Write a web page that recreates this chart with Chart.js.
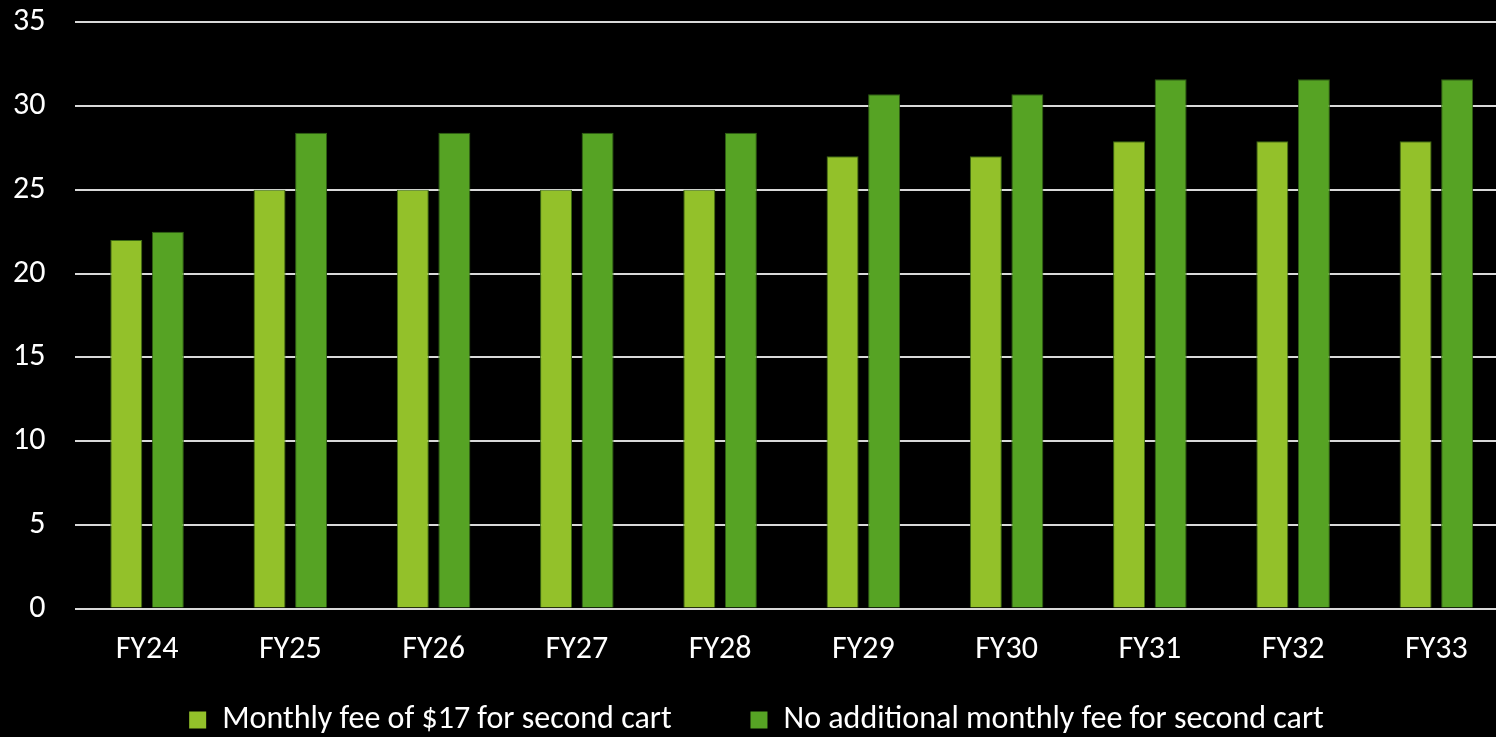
<!DOCTYPE html>
<html><head><meta charset="utf-8">
<script src="https://cdn.jsdelivr.net/npm/chart.js@4/dist/chart.umd.min.js"></script>
<style>html,body{margin:0;padding:0;background:#000;overflow:hidden}#wrap{width:1508px;height:764px;position:relative;margin-top:-27px}</style>
</head><body><div id="wrap"><canvas id="c"></canvas></div>
<script>
const categories = ["FY24","FY25","FY26","FY27","FY28","FY29","FY30","FY31","FY32","FY33"];
const feeSeries = [22,25,25,25,25,27,27,27.9,27.9,27.9];
const noFeeSeries = [22.5,28.4,28.4,28.4,28.4,30.7,30.7,31.6,31.6,31.6];
const seriesNames = ["Monthly fee of $17 for second cart","No additional monthly fee for second cart"];
const yTicks = [0,5,10,15,20,25,30,35];
const FONT = "Carlito, Lato, 'Open Sans', sans-serif";
const legendGap = "        ";
const legendShift = {
  id: 'legendShift',
  afterLayout(chart) { const l = chart.legend; if (l) { l.left += 11; l.right += 11; } }
};
new Chart(document.getElementById('c'), {
  type: 'bar',
  data: {
    labels: categories,
    datasets: [
      {label: seriesNames[0], data: feeSeries, backgroundColor: '#93c12a', borderColor: '#3c6a14', borderWidth: 1},
      {label: seriesNames[1], data: noFeeSeries, backgroundColor: '#56a324', borderColor: '#2f5d14', borderWidth: 1}
    ]
  },
  plugins: [legendShift],
  options: {
    responsive: true, maintainAspectRatio: false, animation: false,
    categoryPercentage: 0.58, barPercentage: 0.77,
    layout: {padding: {top: 0, left: -17, right: 0, bottom: -9}},
    plugins: {
      legend: {position: 'bottom', labels: {color: '#fff', font: {family: FONT, size: 32}, boxWidth: 17, boxHeight: 17, padding: 21,
        generateLabels: (chart) => {
          const items = Chart.defaults.plugins.legend.labels.generateLabels(chart);
          items.forEach((it, i) => { it.lineWidth = 0; if (i === 0) it.text = it.text + legendGap; });
          return items;
        }}},
      tooltip: {enabled: false}
    },
    scales: {
      x: {grid: {display: false}, border: {display: false}, ticks: {color: '#fff', font: {family: FONT, size: 32}, padding: 14}},
      y: {min: 0, max: 35, afterBuildTicks: a => { a.ticks = yTicks.map(v => ({value: v})); },
          grid: {color: '#d9d9d9', lineWidth: 2, drawTicks: false}, border: {display: false},
          ticks: {color: '#fff', font: {family: FONT, size: 32}, padding: 30}}
    }
  }
});
</script></body></html>
